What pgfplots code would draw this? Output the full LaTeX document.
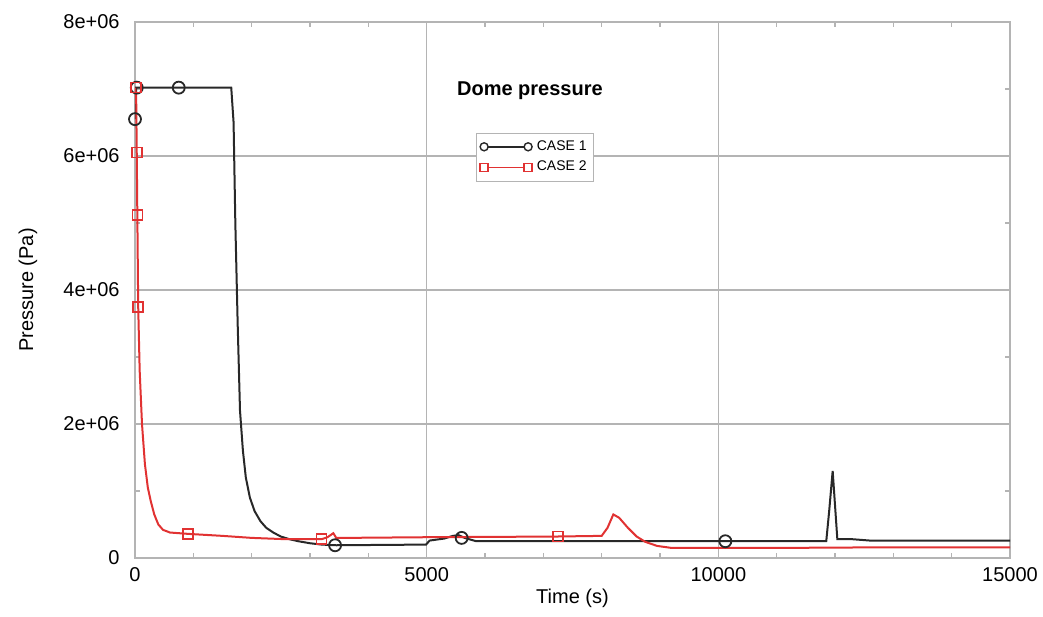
\documentclass[border=0pt]{standalone}
\usepackage{fontspec}
\setmainfont{Liberation Sans}
\usepackage{pgfplots}
\pgfplotsset{compat=1.18}
\definecolor{caseonecol}{RGB}{40,40,40}
\definecolor{casetwocol}{RGB}{225,50,50}
\definecolor{gridc}{RGB}{180,180,180}
\begin{document}
\begin{tikzpicture}
\begin{axis}[
  scale only axis, width=437.5pt, height=268pt,
  xmin=0, xmax=15000, ymin=0, ymax=8e6,
  scaled ticks=false,
  xtick={0,5000,10000,15000}, xticklabels={0,5000,10000,15000},
  ytick={0,2e6,4e6,6e6,8e6}, yticklabels={0,2e+06,4e+06,6e+06,8e+06},
  minor xtick={1000,2000,3000,4000,6000,7000,8000,9000,11000,12000,13000,14000},
  minor ytick={1e6,3e6,5e6,7e6},
  grid=major, major grid style={gridc, line width=0.6pt},
  axis line style={gridc, line width=0.8pt},
  tick style={gridc, line width=0.6pt},
  major tick length=0pt, minor tick length=2.5pt, tick align=inside,
  /pgf/number format/assume math mode=true,
  ticklabel style={font=\fontsize{10}{12}\selectfont},
  xticklabel style={anchor=center, inner sep=0pt, yshift=-8.5pt},
  yticklabel style={anchor=east, inner sep=0pt, xshift=-7.5pt},
  every axis x label/.style={at={(axis description cs:0.5,-0.0746)}, anchor=center, font=\fontsize{10}{12}\selectfont},
  every axis y label/.style={at={(axis description cs:-0.1223,0.5)}, anchor=center, rotate=90, font=\fontsize{10}{12}\selectfont},
  xlabel={Time (s)}, ylabel={Pressure (Pa)},
  legend style={at={(axis cs:5846,6.343e6)}, anchor=north west, draw=gridc, font=\fontsize{7}{8}\selectfont, inner sep=1.5pt, row sep=0pt, cells={anchor=west}},
]
\coordinate (bl) at (rel axis cs:0,0);
\coordinate (tr) at (rel axis cs:1,1);
% CASE 1
\addplot[color=caseonecol, line width=1pt, forget plot] coordinates {
(0,6.55e6) (20,7.02e6) (1650,7.02e6) (1690,6.5e6) (1720,5.0e6) (1760,3.5e6)
(1800,2.2e6) (1850,1.6e6) (1900,1.2e6) (1970,0.9e6) (2050,0.7e6) (2150,0.55e6)
(2250,0.45e6) (2370,0.38e6) (2500,0.32e6) (2650,0.28e6) (2800,0.25e6) (3000,0.22e6)
(3200,0.2e6) (3450,0.19e6) (4990,0.2e6) (5050,0.26e6) (5300,0.29e6) (5450,0.33e6)
(5550,0.34e6) (5650,0.3e6) (5850,0.25e6) (11850,0.25e6) (11900,0.7e6) (11960,1.3e6)
(12040,0.28e6) (12300,0.28e6) (12600,0.26e6) (15000,0.26e6)
};
\addplot[only marks, color=caseonecol, mark=o, mark size=3pt, mark options={line width=0.9pt}, forget plot] coordinates {
(0,6.55e6) (30,7.02e6) (750,7.02e6) (3430,0.19e6) (5600,0.3e6) (10120,0.25e6)
};
% CASE 2
\addplot[color=casetwocol, line width=1pt, forget plot] coordinates {
(0,7.02e6) (20,6.9e6) (30,6.05e6) (40,5.12e6) (55,3.75e6) (80,2.8e6) (120,2.0e6)
(170,1.4e6) (220,1.05e6) (270,0.85e6) (330,0.65e6) (400,0.5e6) (480,0.42e6)
(600,0.38e6) (910,0.36e6) (1500,0.33e6) (2000,0.3e6) (2600,0.28e6) (3200,0.28e6)
(3300,0.31e6) (3400,0.37e6) (3450,0.3e6) (3600,0.3e6) (5000,0.31e6) (7200,0.32e6)
(8000,0.33e6) (8100,0.45e6) (8200,0.65e6) (8300,0.6e6) (8450,0.45e6) (8600,0.32e6)
(8750,0.24e6) (8950,0.18e6) (9200,0.15e6) (11000,0.15e6) (13000,0.16e6) (15000,0.16e6)
};
\addplot[only marks, color=casetwocol, mark=square, mark size=2.5pt, mark options={line width=0.8pt}, forget plot] coordinates {
(20,7.02e6) (30,6.05e6) (40,5.12e6) (55,3.75e6) (910,0.36e6) (3200,0.28e6) (7250,0.32e6)
};
\addlegendimage{legend image code/.code={
  \draw[caseonecol, line width=0.8pt] (2pt,0pt) -- (20pt,0pt);
  \draw[caseonecol, line width=0.7pt] (0pt,0pt) circle (2pt);
  \draw[caseonecol, line width=0.7pt] (22pt,0pt) circle (2pt);}}
\addlegendentry{CASE 1}
\addlegendimage{legend image code/.code={
  \draw[casetwocol, line width=0.8pt] (2pt,0pt) -- (20pt,0pt);
  \draw[casetwocol, line width=0.7pt] (-2pt,-2pt) -- (2pt,-2pt) -- (2pt,2pt) -- (-2pt,2pt) -- cycle;
  \draw[casetwocol, line width=0.7pt] (20pt,-2pt) -- (24pt,-2pt) -- (24pt,2pt) -- (20pt,2pt) -- cycle;}}
\addlegendentry{CASE 2}
\node[font=\bfseries\fontsize{10}{12}\selectfont] at (axis cs:6770,6.98e6) {Dome pressure};
\end{axis}
\pgfresetboundingbox
\path[use as bounding box] (bl) ++(-67.5pt,-29.5pt) rectangle ([shift={(16.5pt,11pt)}]tr);
\end{tikzpicture}
\end{document}
